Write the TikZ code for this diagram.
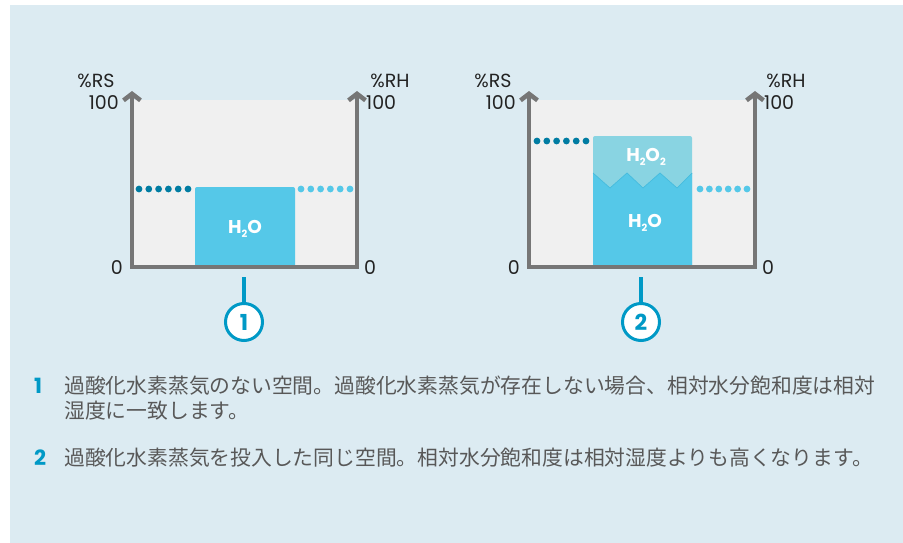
\documentclass[tikz,border=0pt]{standalone}
\usepackage{fontspec}
\setmainfont{Poppins}
\newfontfamily\jpfont{Noto Sans CJK JP}
\usetikzlibrary{arrows.meta}
\definecolor{bgblue}{RGB}{220,235,242}
\definecolor{panelgray}{RGB}{240,240,240}
\definecolor{axisgray}{RGB}{118,118,118}
\definecolor{water}{RGB}{85,200,232}
\definecolor{waterline}{RGB}{70,188,222}
\definecolor{peroxide}{RGB}{137,212,226}
\definecolor{dotdark}{RGB}{0,124,162}
\definecolor{teal}{RGB}{0,153,198}
\definecolor{txtgray}{RGB}{88,88,88}
\definecolor{labblack}{RGB}{35,35,35}
\newcommand{\subtwo}{\raisebox{-4pt}{\fontsize{10}{10}\selectfont 2}}
\begin{document}
\begin{tikzpicture}[x=1pt,y=-1pt,
  axis/.style={draw=axisgray, line width=4pt, line join=miter,
    {Straight Barb[length=6.5pt,width=17pt,line width=4.5pt]}-{Straight Barb[length=6.5pt,width=17pt,line width=4.5pt]}},
  lab/.style={text=labblack, font=\fontsize{19}{19}\selectfont, inner sep=0pt},
  chem/.style={text=white, font=\fontsize{18.5}{18.5}\selectfont\bfseries, inner sep=0pt},
  numcirc/.style={circle, draw=teal, fill=white, line width=3pt, minimum size=37pt, inner sep=0pt,
    text=teal, font=\fontsize{22}{22}\selectfont\bfseries},
  conn/.style={draw=teal, line width=3.5pt},
  itemnum/.style={text=teal, font=\fontsize{21}{21}\selectfont\bfseries, inner sep=0pt, anchor=base west},
  itemtxt/.style={text=txtgray, font=\jpfont\fontsize{20.8}{25}\selectfont, inner sep=0pt, anchor=base west},
]
\useasboundingbox (0,0) rectangle (903,543);
\fill[bgblue] (10,5) rectangle (903,543);

% ---------- chart 1 ----------
\fill[panelgray] (132,100) rectangle (357,267);
\fill[water] (195,267) {[rounded corners=2pt] -- (195,187) -- (295,187)} -- (295,267) -- cycle;
\node[chem] (h2o1) at (245,229) {H\subtwo O};
\foreach \i in {0,...,5} {
  \fill[dotdark] (139+9.8*\i,189) circle (3.4);
  \fill[water] (301+9.8*\i,189) circle (3.4);
}
\draw[axis] (132,91) -- (132,267) -- (357,267) -- (357,91);
\node[lab] (rs1) at (96,81) {\%RS};
\node[lab, anchor=east] (rs1top) at (119,103) {100};
\node[lab, anchor=east] (rs1zero) at (123,268) {0};
\node[lab] (rh1) at (390,81) {\%RH};
\node[lab, anchor=west] (rh1top) at (366,103) {100};
\node[lab, anchor=west] (rh1zero) at (364,268) {0};
\coordinate (c1top) at (244,277);
\node[numcirc] (n1) at (244,322) {1};
\draw[conn] (c1top) -- (n1);

% ---------- chart 2 ----------
\fill[panelgray] (529,100) rectangle (755,267);
\fill[peroxide] (593,267) {[rounded corners=2pt] -- (593,136) -- (692,136)} -- (692,267) -- cycle;
\fill[water] (593,267) -- (593,173) -- (610,188) -- (627,173) -- (643,188) -- (660,173) -- (677,188) -- (692,173) -- (692,267) -- cycle;
\draw[waterline, line width=0.7pt] (593,173) -- (610,188) -- (627,173) -- (643,188) -- (660,173) -- (677,188) -- (692,173);
\node[chem] (h2o22) at (646,157) {H\subtwo O\subtwo};
\node[chem] (h2o2) at (645,223) {H\subtwo O};
\foreach \i in {0,...,5} {
  \fill[dotdark] (537+9.8*\i,141) circle (3.4);
  \fill[water] (700+9.4*\i,189) circle (3.4);
}
\draw[axis] (529,91) -- (529,267) -- (755,267) -- (755,91);
\node[lab] (rs2) at (493,81) {\%RS};
\node[lab, anchor=east] (rs2top) at (516,103) {100};
\node[lab, anchor=east] (rs2zero) at (520,268) {0};
\node[lab] (rh2) at (786,81) {\%RH};
\node[lab, anchor=west] (rh2top) at (764,103) {100};
\node[lab, anchor=west] (rh2zero) at (762,268) {0};
\coordinate (c2top) at (641,277);
\node[numcirc] (n2) at (641,322) {2};
\draw[conn] (c2top) -- (n2);

% ---------- text ----------
\node[itemnum] (t1n) at (34,393) {1};
\node[itemtxt] (t1a) at (64,393) {過酸化水素蒸気のない空間。過酸化水素蒸気が存在しない場合、相対水分飽和度は相対};
\node[itemtxt] (t1b) at (64,418) {湿度に一致します。};
\node[itemnum] (t2n) at (34,465) {2};
\node[itemtxt] (t2) at (64,465) {過酸化水素蒸気を投入した同じ空間。相対水分飽和度は相対湿度よりも高くなります。};
\end{tikzpicture}
\end{document}
